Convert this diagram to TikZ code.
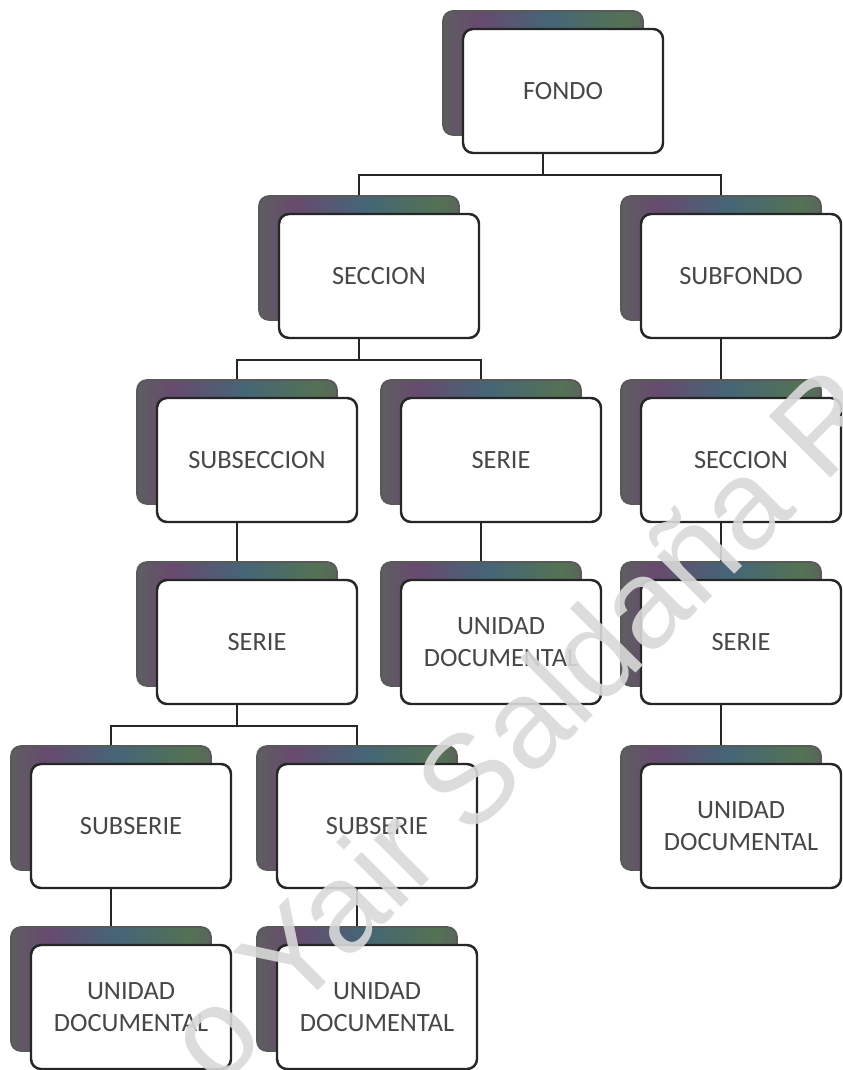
\documentclass[tikz,border=0pt]{standalone}
\usepackage{fontspec}
\newfontfamily\boxfont{Carlito}
\newfontfamily\wmfont{Liberation Sans}
\usepackage{xcolor}
\usetikzlibrary{shadows, calc}

\definecolor{shA}{RGB}{104,74,110}
\definecolor{shB}{RGB}{84,114,84}
\definecolor{shC}{RGB}{68,102,118}
\definecolor{shD}{RGB}{110,110,100}
\pgfdeclarehorizontalshading{stackshade}{100bp}{color(0bp)=(shA); color(16bp)=(shB); color(34bp)=(shA); color(52bp)=(shC); color(70bp)=(shB); color(86bp)=(shA); color(100bp)=(shD)}

\begin{document}
\begin{tikzpicture}[x=0.2mm, y=-0.2mm,
  unit/.style={draw=black!85, line width=1.4pt, fill=white, rounded corners=2mm,
               minimum width=40mm, minimum height=24.8mm, align=center,
               font=\boxfont\fontsize{15}{18}\selectfont, text=black!72,
               copy shadow={shadow xshift=-4mm, shadow yshift=3.6mm,
                            shading=stackshade, draw=black!65, line width=1pt}},
  link/.style={line width=1.4pt, draw=black!85},
  wmark/.style={font=\wmfont\fontsize{72}{72}\selectfont, text=black!15,
                opacity=0.9, rotate=45},
]
\useasboundingbox (0,0) rectangle (842,1070);

\node[unit] (fondo) at (563,91) {FONDO};

\node[unit] (secA) at (379,276) {SECCION};
\node[unit] (subfondo) at (741,276) {SUBFONDO};

\node[unit] (subsec) at (257,460) {SUBSECCION};
\node[unit] (serieA) at (501,460) {SERIE};
\node[unit] (secB) at (741,460) {SECCION};

\node[unit] (serieB) at (257,642) {SERIE};
\node[unit] (unidadA) at (501,642) {UNIDAD\\DOCUMENTAL};
\node[unit] (serieC) at (741,642) {SERIE};

\node[unit] (subserieA) at (131,826) {SUBSERIE};
\node[unit] (subserieB) at (377,826) {SUBSERIE};
\node[unit] (unidadB) at (741,826) {UNIDAD\\DOCUMENTAL};

\node[unit] (unidadC) at (131,1007) {UNIDAD\\DOCUMENTAL};
\node[unit] (unidadD) at (377,1007) {UNIDAD\\DOCUMENTAL};

\draw[link] ([xshift=-4mm]fondo.south) -- ++(0,21) -| ([xshift=-4mm,yshift=3.6mm]secA.north);
\draw[link] ([xshift=-4mm]fondo.south) -- ++(0,21) -| ([xshift=-4mm,yshift=3.6mm]subfondo.north);
\draw[link] ([xshift=-4mm]secA.south) -- ++(0,21) -| ([xshift=-4mm,yshift=3.6mm]subsec.north);
\draw[link] ([xshift=-4mm]secA.south) -- ++(0,21) -| ([xshift=-4mm,yshift=3.6mm]serieA.north);
\draw[link] ([xshift=-4mm]serieB.south) -- ++(0,21) -| ([xshift=-4mm,yshift=3.6mm]subserieA.north);
\draw[link] ([xshift=-4mm]serieB.south) -- ++(0,21) -| ([xshift=-4mm,yshift=3.6mm]subserieB.north);

\draw[link] ([xshift=-4mm]subsec.south) -- ([xshift=-4mm,yshift=3.6mm]serieB.north);
\draw[link] ([xshift=-4mm]serieA.south) -- ([xshift=-4mm,yshift=3.6mm]unidadA.north);
\draw[link] ([xshift=-4mm]subserieA.south) -- ([xshift=-4mm,yshift=3.6mm]unidadC.north);
\draw[link] ([xshift=-4mm]subserieB.south) -- ([xshift=-4mm,yshift=3.6mm]unidadD.north);
\draw[link] ([xshift=-4mm]subfondo.south) -- ([xshift=-4mm,yshift=3.6mm]secB.north);
\draw[link] ([xshift=-4mm]secB.south) -- ([xshift=-4mm,yshift=3.6mm]serieC.north);
\draw[link] ([xshift=-4mm]serieC.south) -- ([xshift=-4mm,yshift=3.6mm]unidadB.north);

\begin{scope}
\clip (0,0) rectangle (842,1070);
\node[wmark] (firma) at (521,724) {o Yair Saldaña R};
\end{scope}
\end{tikzpicture}
\end{document}
